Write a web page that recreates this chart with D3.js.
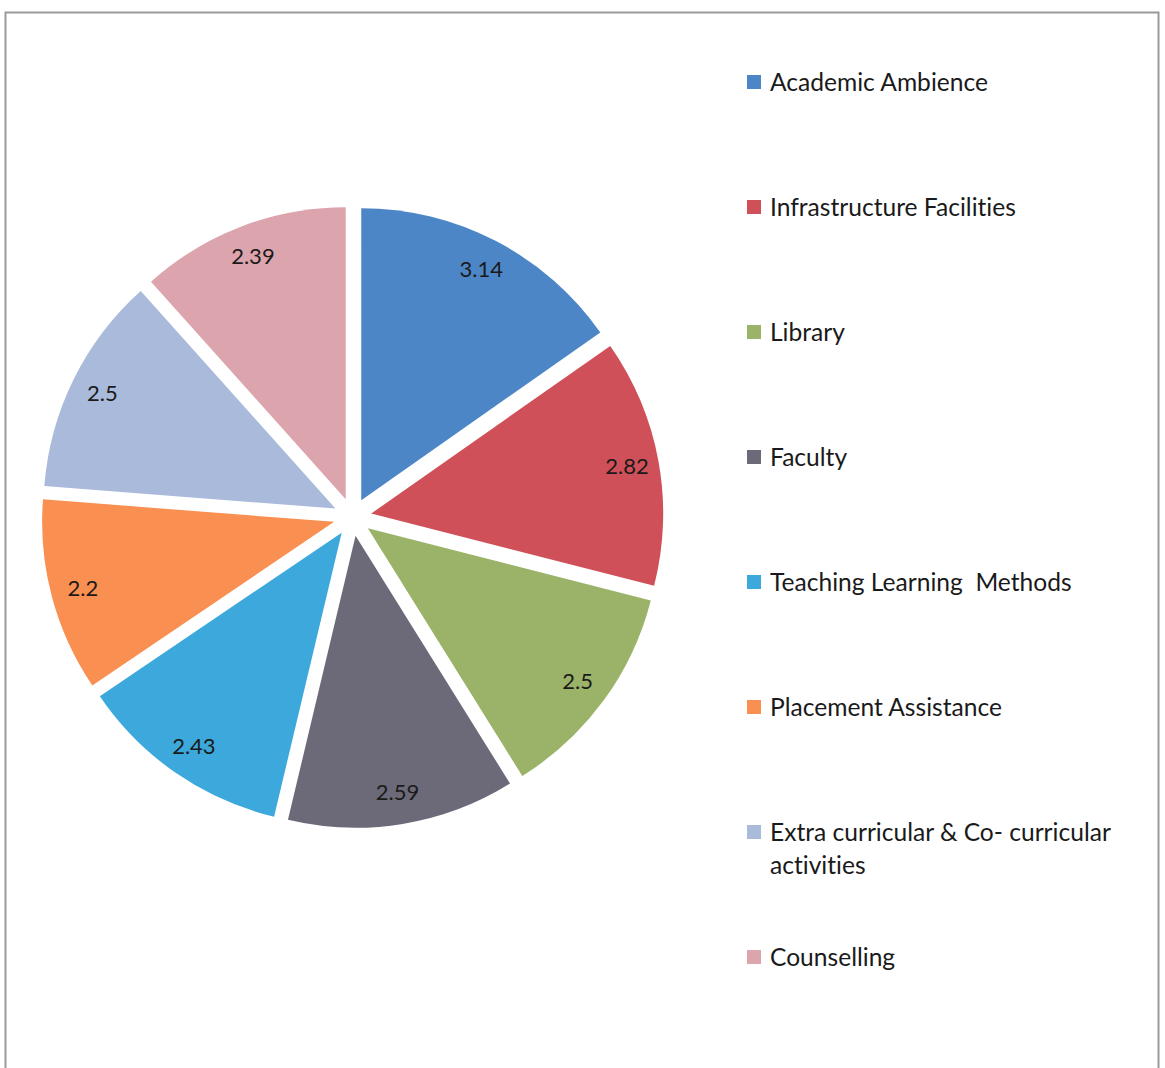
<!DOCTYPE html>
<html>
<head>
<meta charset="utf-8">
<script src="https://cdn.jsdelivr.net/npm/d3@7"></script>
<style>
  html, body { margin: 0; padding: 0; background: #ffffff; }
  svg { display: block; }
  text { font-variant-ligatures: none; font-feature-settings: "liga" 0, "clig" 0; }
</style>
</head>
<body>
<svg id="chart" width="1165" height="1068"></svg>
<script>
const categories = [
  "Academic Ambience",
  "Infrastructure Facilities",
  "Library",
  "Faculty",
  "Teaching Learning  Methods",
  "Placement Assistance",
  "Extra curricular & Co- curricular activities",
  "Counselling"
];
const values = [3.14, 2.82, 2.5, 2.59, 2.43, 2.2, 2.5, 2.39];
const valueLabels = ["3.14", "2.82", "2.5", "2.59", "2.43", "2.2", "2.5", "2.39"];
const colors = ["#4c86c6", "#cf5058", "#9bb269", "#6c6a79", "#3ca8dc", "#f98f50", "#a9badb", "#dca4ac"];
const legendLines = [
  ["Academic Ambience"],
  ["Infrastructure Facilities"],
  ["Library"],
  ["Faculty"],
  ["Teaching Learning  Methods"],
  ["Placement Assistance"],
  ["Extra curricular & Co- curricular", "activities"],
  ["Counselling"]
];

const svg = d3.select("#chart");
const font = "Lato, 'Open Sans', 'DejaVu Sans', sans-serif";

// frame
svg.append("rect")
  .attr("x", 5.5).attr("y", 12.5)
  .attr("width", 1153).attr("height", 1070)
  .attr("fill", "none")
  .attr("stroke", "#9a9a9a")
  .attr("stroke-width", 2);

const cx = 352.5, cy = 517, r = 292, explode = 19, labelR = 260;

const data = categories.map((c, i) => ({ name: c, value: values[i], label: valueLabels[i], color: colors[i] }));

const pie = d3.pie().sort(null).value(d => d.value).startAngle(0).endAngle(2 * Math.PI);
const arc = d3.arc().innerRadius(0).outerRadius(r);
const labelArc = d3.arc().innerRadius(labelR).outerRadius(labelR);

const g = svg.append("g").attr("transform", `translate(${cx},${cy})`);

const slices = g.selectAll("g.slice")
  .data(pie(data))
  .join("g")
  .attr("class", "slice")
  .attr("transform", d => {
    const m = (d.startAngle + d.endAngle) / 2;
    return `translate(${explode * Math.sin(m)},${-explode * Math.cos(m)})`;
  });

slices.append("path")
  .attr("d", arc)
  .attr("fill", d => d.data.color);

slices.append("text")
  .attr("transform", d => `translate(${labelArc.centroid(d)})`)
  .attr("text-anchor", "middle")
  .attr("dy", "0.35em")
  .attr("font-family", font)
  .attr("font-size", 22)
  .attr("fill", "#1a1a1a")
  .text(d => d.data.label);

// legend
const legend = svg.append("g");
const legendX = 747, legendTextX = 770, legendY0 = 82, legendStep = 125;

const items = legend.selectAll("g.item")
  .data(data)
  .join("g")
  .attr("class", "item")
  .attr("transform", (d, i) => `translate(0,${legendY0 + i * legendStep})`);

items.append("rect")
  .attr("x", legendX)
  .attr("y", -7)
  .attr("width", 14)
  .attr("height", 14)
  .attr("fill", d => d.color);

const texts = items.append("text")
  .attr("x", legendTextX)
  .attr("font-family", font)
  .attr("font-size", 22)
  .attr("fill", "#1a1a1a")
  .style("white-space", "pre");

texts.each(function(d, i) {
  const t = d3.select(this);
  legendLines[i].forEach((line, k) => {
    t.append("tspan")
      .attr("x", legendTextX)
      .attr("dy", k === 0 ? "0.35em" : "1.45em")
      .text(line);
  });
});

// fit legend font size so "Academic Ambience" is ~218px wide
const firstNode = texts.nodes()[0];
const w = firstNode.getComputedTextLength();
if (w > 0) {
  const fs = 22 * 218 / w;
  texts.attr("font-size", fs);
  texts.each(function(d, i) {
    if (legendLines[i].length > 1) {
      d3.select(this).selectAll("tspan").filter((_, k) => k > 0).attr("dy", (33 / fs) + "em");
    }
  });
}
</script>
</body>
</html>
